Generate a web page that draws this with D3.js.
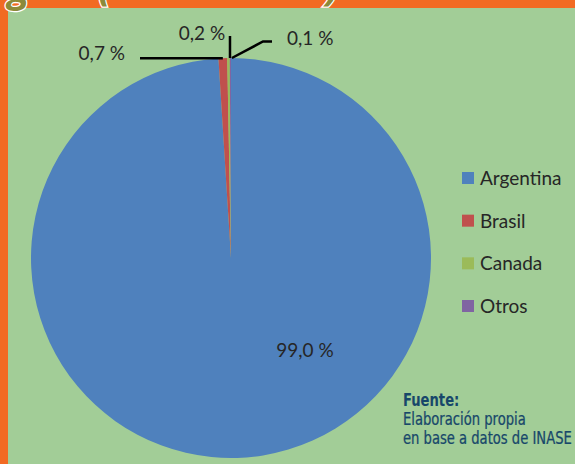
<!DOCTYPE html>
<html><head><meta charset="utf-8">
<script src="https://cdn.jsdelivr.net/npm/d3@7"></script>
<style>
html,body{margin:0;padding:0;background:#A2CD97;}
svg{display:block;}
</style></head>
<body>
<svg id="chart" width="575" height="464"></svg>
<script>
const categories = ["Argentina", "Brasil", "Canada", "Otros"];
const values = [99.0, 0.7, 0.2, 0.1];
const labels = ["99,0 %", "0,7 %", "0,2 %", "0,1 %"];
const colors = ["#4F81BD", "#C0504D", "#9BBB59", "#8064A2"];
const sourceTitle = "Fuente:";
const sourceLines = ["Elaboración propia", "en base a datos de INASE"];

const W = 575, H = 464;
const svg = d3.select("#chart");
const green = "#A2CD97", orange = "#F26A23";

// frame
svg.append("rect").attr("width", W).attr("height", H).attr("fill", orange);
svg.append("rect").attr("x", 8).attr("y", 8).attr("width", W - 8).attr("height", H - 8).attr("fill", green);

// pie
const cx = 231, cy = 258, R = 200;
const pie = d3.pie().sort(null).value(d => d).startAngle(0).endAngle(2 * Math.PI);
const arcs = pie(values);
const arc = d3.arc().innerRadius(0).outerRadius(R);
const g = svg.append("g").attr("transform", `translate(${cx},${cy})`);
g.selectAll("path").data(arcs).join("path")
  .attr("d", arc).attr("fill", (d, i) => colors[i]);

const font = "Lato, 'Open Sans', sans-serif";
const txt = "#262626";
const edge = a => [R * Math.sin(a), -R * Math.cos(a)];
const mid = d => (d.startAngle + d.endAngle) / 2;

// big label inside
g.append("text")
  .attr("x", 74).attr("y", 99)
  .attr("text-anchor", "middle").attr("font-family", font).attr("font-size", 19).attr("fill", txt)
  .text(labels[0]);

// leader lines
const line = d3.line();
{
  const p = edge(mid(arcs[1]));
  g.append("path").attr("d", line([p, [-91, p[1]]])).attr("stroke", "#000").attr("stroke-width", 2.5).attr("fill", "none");
  g.append("text").attr("x", -106).attr("y", -198).attr("text-anchor", "end")
    .attr("font-family", font).attr("font-size", 19).attr("fill", txt).text(labels[1]);
}
{
  const p = edge(mid(arcs[2]));
  g.append("path").attr("d", line([[p[0] + 1.5, p[1]], [p[0] + 1.5, -222]])).attr("stroke", "#000").attr("stroke-width", 2.5).attr("fill", "none");
  g.append("text").attr("x", -29).attr("y", -218).attr("text-anchor", "middle")
    .attr("font-family", font).attr("font-size", 19).attr("fill", txt).text(labels[2]);
}
{
  const p = edge(mid(arcs[3]));
  g.append("path").attr("d", line([[p[0] + 1.5, p[1]], [32, -216.5], [41, -216.5]])).attr("stroke", "#000").attr("stroke-width", 2.5).attr("fill", "none");
  g.append("text").attr("x", 56).attr("y", -213).attr("text-anchor", "start")
    .attr("font-family", font).attr("font-size", 19).attr("fill", txt).text(labels[3]);
}

// legend
const lg = svg.append("g").attr("transform", "translate(462,172)");
const ly = d3.scalePoint().domain(categories).range([0, 128]);
categories.forEach((c, i) => {
  lg.append("rect").attr("x", 0).attr("y", ly(c)).attr("width", 12).attr("height", 12).attr("fill", colors[i]);
  lg.append("text").attr("x", 18).attr("y", ly(c) + 13).attr("font-family", font).attr("font-size", 19)
    .attr("fill", txt).text(c);
});

// source
const sf = "'Liberation Sans Narrow', 'DejaVu Sans Condensed', 'Arial Narrow', sans-serif";
const sc = "#17476A";
const src = svg.append("g").attr("transform", "translate(403,0)");
src.append("text").attr("y", 406).attr("font-family", sf).attr("font-size", 18).attr("font-weight", "bold").attr("fill", sc).text(sourceTitle);
sourceLines.forEach((t, i) => {
  src.append("text").attr("y", 425 + i * 19).attr("font-family", sf).attr("font-size", 18).attr("fill", sc)
    .attr("stroke", sc).attr("stroke-width", 0.25).text(t);
});
{
  const nodes = src.selectAll("text").nodes();
  const w = nodes[2].getComputedTextLength();
  const k = 169 / w;
  nodes.forEach(n => {
    const y = +n.getAttribute("y");
    n.setAttribute("transform", `translate(0,${y}) scale(${k},1) translate(0,${-y})`);
  });
}

// title fragments cut off by the top edge
const tStyle = sel => sel.attr("font-family", "'Open Sans', sans-serif")
  .attr("font-size", 40).attr("font-weight", "bold").attr("font-style", "italic")
  .attr("fill", "#8C8A3A").attr("stroke", "#fff").attr("stroke-width", 2.5).attr("paint-order", "stroke");
svg.append("text").attr("x", 8).attr("y", 2).call(tStyle).text("g");
svg.append("text").attr("x", 98).attr("y", 0).call(tStyle).text("(");
svg.append("text").attr("x", 122).attr("y", -5).call(tStyle).text("ooo");
svg.append("text").attr("x", 255).attr("y", -5).call(tStyle).text("ooo");
svg.append("text").attr("x", 326).attr("y", 0).call(tStyle).text(")");
</script>
</body></html>
